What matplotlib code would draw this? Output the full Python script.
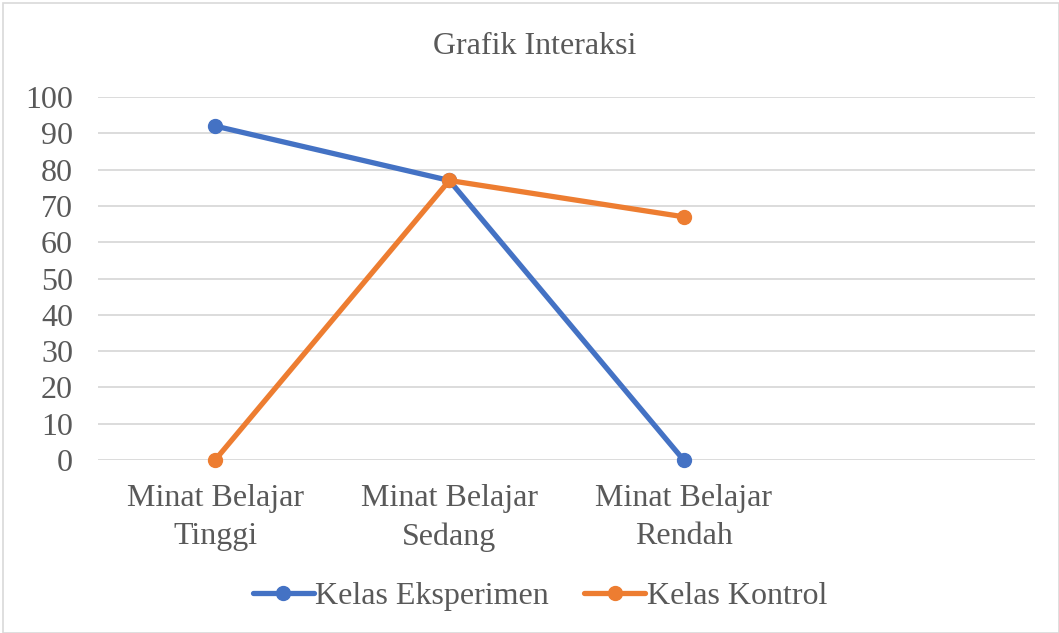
import matplotlib
matplotlib.use("Agg")
import matplotlib.pyplot as plt
from matplotlib.patches import Rectangle

categories = ["Minat Belajar\nTinggi", "Minat Belajar\nSedang", "Minat Belajar\nRendah", ""]
eksperimen = [92, 77, 0]
kontrol = [0, 77, 67]
y_ticks = list(range(0, 101, 10))

plt.rcParams["font.family"] = ["Liberation Serif", "DejaVu Serif"]
text_color = "#595959"
blue = "#4472C4"
orange = "#ED7D31"
fs = 23

W, H = 1059, 633
fig = plt.figure(figsize=(W / 100, H / 100), dpi=100)
fig.patches.append(Rectangle((3 / W, 0), (W - 3) / W, 1 - 3 / H, transform=fig.transFigure,
                             fill=False, edgecolor="#D9D9D9", linewidth=1.2))

ax = fig.add_axes([98 / W, 1 - 460 / H, (1035 - 98) / W, (460 - 97) / H])
x = list(range(len(categories)))
ax.plot(x[:3], eksperimen, color=blue, lw=3.8, marker="o", ms=10, label="Kelas Eksperimen",
        solid_capstyle="round", zorder=3, clip_on=False)
ax.plot(x[:3], kontrol, color=orange, lw=3.8, marker="o", ms=10, label="Kelas Kontrol",
        solid_capstyle="round", zorder=4, clip_on=False)

ax.set_xlim(-0.5, len(categories) - 0.5)
ax.set_ylim(0, 100)
ax.set_yticks(y_ticks)
ax.set_yticklabels([str(t) for t in y_ticks], fontsize=fs, color=text_color)
ax.set_xticks(x)
ax.set_xticklabels(categories, fontsize=fs, color=text_color, linespacing=1.43)
ax.tick_params(axis="both", length=0)
ax.tick_params(axis="y", pad=18)
ax.tick_params(axis="x", pad=17)
ax.grid(axis="y", color="#D9D9D9", lw=1.3)
ax.set_axisbelow(True)
for s in ax.spines.values():
    s.set_visible(False)

fig.text(535 / W, 1 - 47 / H, "Grafik Interaksi", ha="center", va="center", fontsize=fs, color=text_color)

leg = fig.legend(loc="center", bbox_to_anchor=(540 / W, 1 - 596 / H), ncol=2, frameon=False,
                 fontsize=fs, handlelength=1.9, handletextpad=0.05, columnspacing=1.1)
for t in leg.get_texts():
    t.set_color(text_color)

fig.savefig("out.png", dpi=100)
